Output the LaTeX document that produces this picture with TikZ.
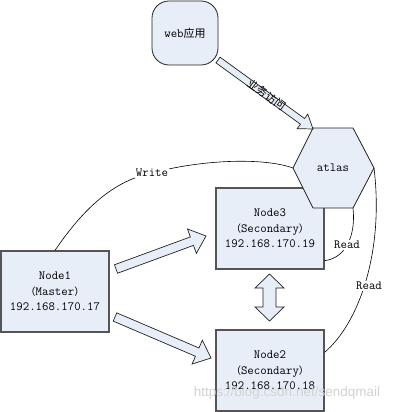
\documentclass[tikz,border=0pt]{standalone}
\usepackage{fontspec}
\newfontfamily\cjk{Noto Sans CJK SC}
\newfontfamily\wmfont{Liberation Sans}
\usetikzlibrary{calc}
\definecolor{boxfill}{HTML}{E8EEF8}
\definecolor{boxdraw}{HTML}{555555}
\definecolor{linecol}{HTML}{222222}
\newcommand\blockarr[6]{%
  \coordinate (#6hb) at ($(#2)!#5!(#1)$);
  \draw[arrowst] ($(#1)!#3!90:(#2)$) -- ($(#6hb)!#3!90:(#2)$) -- ($(#6hb)!#4!90:(#2)$)
    -- (#2) -- ($(#6hb)!#4!-90:(#2)$) -- ($(#6hb)!#3!-90:(#2)$) -- ($(#1)!#3!-90:(#2)$) -- cycle;
}
\begin{document}
\begin{tikzpicture}[x=1pt,y=-1pt,
  txt/.style={font=\ttfamily\fontsize{12.5}{15.5}\selectfont},
  box/.style={txt, draw=boxdraw, line width=1.3pt, fill=boxfill, minimum width=108pt,
    minimum height=81pt, align=center, inner sep=0pt},
  arrowst/.style={draw=linecol, line width=0.7pt, fill=boxfill, line join=miter},
  hexst/.style={draw=linecol, line width=0.8pt, fill=boxfill},
  conn/.style={draw=black, line width=0.6pt},
  lab/.style={txt, fill=white, inner sep=1pt}]
\useasboundingbox (0,0) rectangle (404,412);
\fill[white] (0,0) rectangle (404,412);

\node[box] (n1) at (55,291.5) {Node1\\{\cjk\fontsize{10}{10}\selectfont （}Master{\cjk\fontsize{10}{10}\selectfont ）}\\192.168.170.17};
\node[box] (n3) at (270,228.5) {Node3\\{\cjk\fontsize{10}{10}\selectfont （}Secondary{\cjk\fontsize{10}{10}\selectfont ）}\\192.168.170.19};
\node[box] (n2) at (270,370.5) {Node2\\{\cjk\fontsize{10}{10}\selectfont （}Secondary{\cjk\fontsize{10}{10}\selectfont ）}\\192.168.170.18};

% atlas hexagon
\coordinate (hL) at (293,168);
\coordinate (hTL) at (313,128);
\coordinate (hTR) at (353,128);
\coordinate (hR) at (374,168);
\coordinate (hBR) at (353,208);
\coordinate (hBL) at (313,208);
\draw[hexst] (hL) -- (hTL) -- (hTR) -- (hR) -- (hBR) -- (hBL) -- cycle;
\node[txt] (atlas) at (333,168) {atlas};

% web app
\node[txt, draw=linecol, line width=0.8pt, fill=boxfill, rounded corners=17pt,
  minimum width=66pt, minimum height=64pt] (web) at (185,33) {web{\cjk\fontsize{11}{11}\selectfont 应用}};

% connectors
\draw[conn] (n1.north) .. controls (88,202) and (118,180) .. (152,173)
  .. controls (200,160) and (262,157) .. (hL);
\node[lab] (wlab) at (152,173) {Write};

\coordinate (r1s) at ($(n3.south east)+(0,-9)$);
\draw[conn] (r1s) .. controls (346,258) and (356,235) .. (hBR);
\node[lab] (r1lab) at (347,245) {Read};

\coordinate (r2s) at ($(n2.north east)+(0,23)$);
\draw[conn] (r2s) .. controls (360,322) and (384,250) .. (hR);
\node[lab] (r2lab) at (369,286) {Read};

% block arrows
\coordinate (aw1) at (218,60);
\coordinate (aw2) at (313,129);
\blockarr{aw1}{aw2}{3.5pt}{9pt}{13pt}{w}
\node[font=\cjk\fontsize{11}{11}\selectfont, rotate=-36, inner sep=0pt] (acc) at (267,95) {业务访问};

\coordinate (a13t) at (116,269);
\coordinate (a13h) at (206,236);
\blockarr{a13t}{a13h}{4.5pt}{13pt}{15pt}{p}

\coordinate (a12t) at (115,317);
\coordinate (a12h) at (211,358);
\blockarr{a12t}{a12h}{4.5pt}{13pt}{15pt}{q}

% double arrow
\draw[arrowst] (269.5,274) -- (284,288) -- (276,288) -- (276,307) -- (284,307) -- (269.5,321)
  -- (255,307) -- (263,307) -- (263,288) -- (255,288) -- cycle;

% watermark
\node[font=\wmfont\fontsize{13.5}{14}\selectfont, text=gray!35, inner sep=0pt] (wm) at (287,393) {https://blog.csdn.net/sendqmail};
\end{tikzpicture}
\end{document}
